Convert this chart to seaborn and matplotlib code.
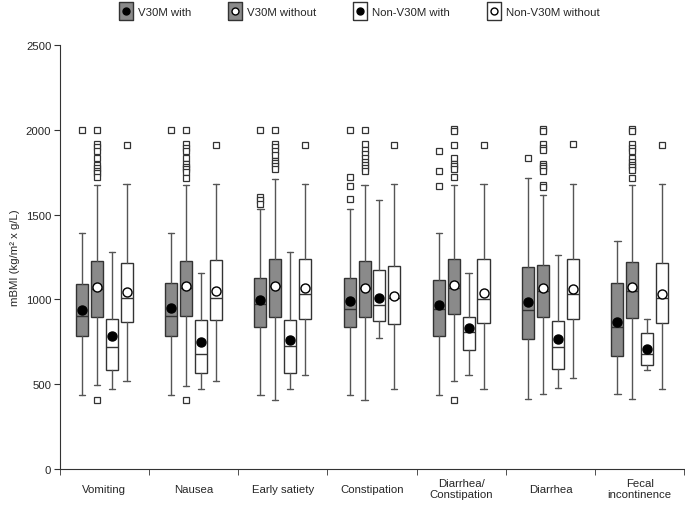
import matplotlib
matplotlib.use("Agg")
import matplotlib.pyplot as plt
from matplotlib.lines import Line2D
import seaborn as sns

categories = ["Vomiting", "Nausea", "Early satiety", "Constipation",
              "Diarrhea/\nConstipation", "Diarrhea", "Fecal\nincontinence"]
groups = ["V30M with", "V30M without", "Non-V30M with", "Non-V30M without"]

# per group: one value per category
whislo = {
    "V30M with":        [437, 440, 440, 440, 440, 412, 445],
    "V30M without":     [495, 493, 408, 408, 518, 443, 412],
    "Non-V30M with":    [473, 473, 475, 776, 556, 477, 587],
    "Non-V30M without": [522, 522, 556, 475, 475, 540, 471],
}
q1 = {
    "V30M with":        [784, 784, 837, 835, 782, 768, 668],
    "V30M without":     [896, 902, 898, 894, 916, 894, 890],
    "Non-V30M with":    [585, 565, 565, 873, 703, 589, 616],
    "Non-V30M without": [867, 877, 887, 855, 863, 887, 861],
}
med = {
    "V30M with":        [900, 902, 973, 946, 944, 940, 837],
    "V30M without":     [1064, 1068, 1078, 1068, 1068, 1050, 1050],
    "Non-V30M with":    [719, 678, 725, 967, 808, 719, 678],
    "Non-V30M without": [1009, 1009, 1032, 1009, 1005, 1032, 1009],
}
q3 = {
    "V30M with":        [1089, 1097, 1125, 1125, 1113, 1190, 1097],
    "V30M without":     [1225, 1225, 1239, 1225, 1239, 1204, 1221],
    "Non-V30M with":    [887, 879, 877, 1172, 894, 873, 802],
    "Non-V30M without": [1216, 1235, 1239, 1196, 1237, 1239, 1213],
}
whishi = {
    "V30M with":        [1393, 1394, 1533, 1533, 1394, 1714, 1345],
    "V30M without":     [1673, 1673, 1712, 1675, 1673, 1616, 1675],
    "Non-V30M with":    [1279, 1154, 1281, 1586, 1154, 1265, 885],
    "Non-V30M without": [1678, 1678, 1678, 1678, 1678, 1678, 1678],
}
means = {
    "V30M with":        [936, 948, 995, 991, 965, 987, 865],
    "V30M without":     [1074, 1078, 1080, 1070, 1086, 1070, 1074],
    "Non-V30M with":    [786, 749, 761, 1009, 833, 767, 709],
    "Non-V30M without": [1044, 1050, 1070, 1018, 1040, 1062, 1034],
}
outliers = {
    "V30M with": [
        [2000], [2000], [2000, 1602, 1586, 1564], [2000, 1720, 1667, 1590],
        [1877, 1757, 1669], [1832], [],
    ],
    "V30M without": [
        [2000, 1917, 1897, 1877, 1832, 1793, 1773, 1757, 1745, 1720, 408],
        [2000, 1917, 1895, 1875, 1834, 1800, 1783, 1767, 1753, 1714, 406],
        [2000, 1917, 1897, 1877, 1852, 1818, 1803, 1785, 1767],
        [2000, 1917, 1880, 1858, 1836, 1810, 1795, 1773, 1757],
        [2005, 1990, 1909, 1834, 1800, 1785, 1769, 1722, 406],
        [2005, 1990, 1915, 1891, 1881, 1799, 1785, 1775, 1759, 1677, 1663],
        [2005, 1990, 1917, 1895, 1877, 1836, 1808, 1793, 1779, 1763, 1718],
    ],
    "Non-V30M with": [[], [], [], [], [], [], []],
    "Non-V30M without": [[1911], [1911], [1911], [1911], [1911], [1915], [1911]],
}

fills = {"V30M with": "#8a8a8a", "V30M without": "#8a8a8a",
         "Non-V30M with": "white", "Non-V30M without": "white"}
mean_colors = {"V30M with": "black", "V30M without": "white",
               "Non-V30M with": "black", "Non-V30M without": "white"}

sns.set_style("ticks")
plt.rcParams["font.family"] = ["Liberation Sans", "DejaVu Sans"]
fs = 8.2

fig = plt.figure(figsize=(6.85, 5.1), dpi=100)
ax = fig.add_axes([0.087, 0.078, 0.912, 0.832])

edge = "#333333"
offsets = [-0.25, -0.083, 0.083, 0.25]
for g, off in zip(groups, offsets):
    stats = []
    for i in range(len(categories)):
        stats.append({
            "whislo": whislo[g][i], "q1": q1[g][i], "med": med[g][i],
            "q3": q3[g][i], "whishi": whishi[g][i], "mean": means[g][i],
            "fliers": outliers[g][i],
        })
    pos = [i + off for i in range(len(categories))]
    ax.bxp(stats, positions=pos, widths=0.135, patch_artist=True,
           showmeans=True, manage_ticks=False,
           boxprops=dict(facecolor=fills[g], edgecolor=edge, linewidth=1),
           medianprops=dict(color=edge, linewidth=1),
           whiskerprops=dict(color="#555555", linewidth=1),
           capprops=dict(color="#555555", linewidth=1),
           capwidths=0.07,
           flierprops=dict(marker="s", markersize=4.5, markerfacecolor="white",
                           markeredgecolor=edge, markeredgewidth=0.9),
           meanprops=dict(marker="o", markersize=6.5, markerfacecolor=mean_colors[g],
                          markeredgecolor="black", markeredgewidth=1))

ax.set_xlim(-0.5, len(categories) - 0.5)
ax.set_ylim(0, 2500)
ax.set_yticks(range(0, 2501, 500))
ax.set_xticks(range(len(categories)))
ax.set_xticklabels(categories, fontsize=fs, va="center")
ax.set_xticks([i - 0.5 for i in range(len(categories) + 1)], minor=True)
ax.tick_params(axis="x", which="major", length=0, pad=14)
ax.tick_params(axis="x", which="minor", length=4, color="#333333")
ax.tick_params(axis="y", labelsize=fs, length=4, color="#333333", pad=2)
ax.set_ylabel("mBMI (kg/m² x g/L)", fontsize=fs, va="center")
ax.yaxis.set_label_coords(-0.071, 0.5)
for s in ["left", "bottom"]:
    ax.spines[s].set_color("#333333")
sns.despine(ax=ax)

rect = [(-0.75, -1), (0.75, -1), (0.75, 1), (-0.75, 1), (-0.75, -1)]
handles = []
for g in groups:
    sq = Line2D([], [], marker=rect, linestyle="none", markersize=12.5,
                markerfacecolor=fills[g], markeredgecolor=edge, markeredgewidth=1)
    dot = Line2D([], [], marker="o", linestyle="none", markersize=5,
                 markerfacecolor=mean_colors[g], markeredgecolor="black",
                 markeredgewidth=1)
    handles.append((sq, dot))
fig.legend(handles, groups, loc="center", bbox_to_anchor=(0.525, 0.974),
           ncol=4, frameon=False, fontsize=fs, handlelength=1.1,
           columnspacing=3.3, handletextpad=0.5)

fig.savefig("out.png", dpi=100)
